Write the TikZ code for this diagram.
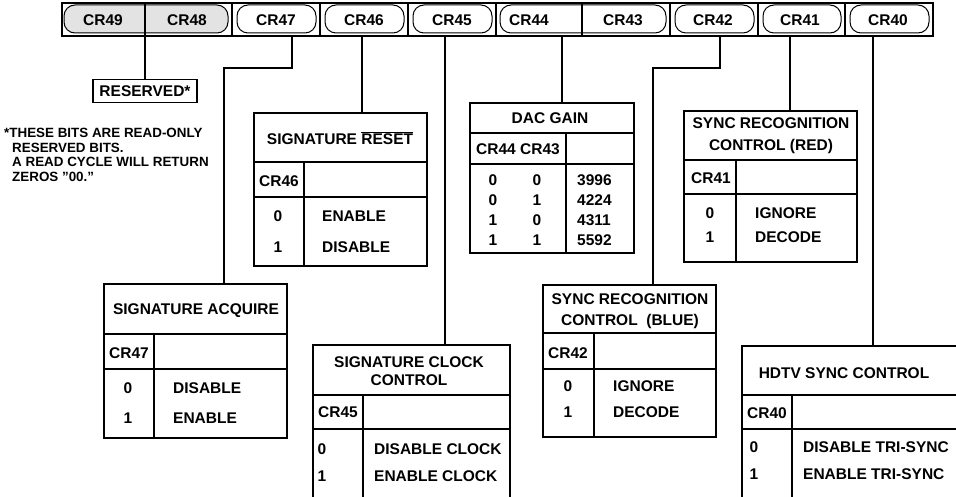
\documentclass[tikz,border=0pt]{standalone}
\usepackage{fontspec}
\setmainfont{Liberation Sans}
\begin{document}
\begin{tikzpicture}[x=1pt,y=-1pt,
  lbl/.style={font=\bfseries\fontsize{15.5}{20}\selectfont, inner sep=0pt, align=center},
  lbll/.style={lbl, anchor=west},
  note/.style={font=\bfseries\fontsize{13.4}{15.5}\selectfont, inner sep=0pt, anchor=west},
  tblbox/.style={draw, line width=1.6pt, anchor=north west, inner sep=0pt, outer sep=0pt},
  innerline/.style={line width=1.1pt},
  wire/.style={line width=1.4pt},
  pillbox/.style={draw, line width=1pt, rounded corners=11pt},
]
\useasboundingbox (0,0) rectangle (956,497);
\clip (0,0) rectangle (956,497);

% ---------- register bar ----------
\draw[pillbox, fill=gray!22] (64,5) rectangle (228,33);
\draw[pillbox] (237,5) rectangle (316,33);
\draw[pillbox] (325,5) rectangle (404,33);
\draw[pillbox] (413,5) rectangle (492,33);
\draw[pillbox] (500,5) rectangle (666,33);
\draw[pillbox] (675,5) rectangle (754,33);
\draw[pillbox] (763,5) rectangle (841,33);
\draw[pillbox] (850,5) rectangle (929,33);
\foreach \x in {145,232,320,408,496,582,670,758,845}
  \draw[innerline] (\x,3) -- (\x,36);
\node[tblbox, minimum width=871pt, minimum height=33pt] (bar) at (62,3) {};

\node[lbl] (b49) at (103,20) {CR49};
\node[lbl] (b48) at (187,20) {CR48};
\node[lbl] (b47) at (276,20) {CR47};
\node[lbl] (b46) at (364,20) {CR46};
\node[lbl] (b45) at (452,20) {CR45};
\node[lbl] (b44) at (529,20) {CR44};
\node[lbl] (b43) at (623,20) {CR43};
\node[lbl] (b42) at (713,20) {CR42};
\node[lbl] (b41) at (800,20) {CR41};
\node[lbl] (b40) at (888,20) {CR40};

% connector start points on the bar
\coordinate (p49) at (145,36);
\coordinate (p47) at (292,36);
\coordinate (k47) at (224,68);
\coordinate (p46) at (362,36);
\coordinate (p45) at (445,36);
\coordinate (p44) at (562,36);
\coordinate (p42) at (720,36);
\coordinate (k42) at (653,68);
\coordinate (p41) at (790,36);
\coordinate (p40) at (873,36);

% ---------- reserved ----------
\node[draw, line width=1.2pt, lbl, minimum width=104pt, minimum height=23pt] (res) at (145,91) {RESERVED*};
\draw[wire] (p49) -- (res.north);

\node[note] (n1) at (4,133) {*THESE BITS ARE READ-ONLY};
\node[note] (n2) at (12,147.5) {RESERVED BITS.};
\node[note] (n3) at (12,162) {A READ CYCLE WILL RETURN};
\node[note] (n4) at (12,176.5) {ZEROS "00."};

% ---------- CR47 : signature acquire ----------
\node[tblbox, minimum width=183pt, minimum height=154pt] (t47) at (104,284) {};
\draw[innerline] (104,334) -- (287,334) (104,369) -- (287,369) (154,334) -- (154,438);
\node[lbl] (t47a) at (196,311) {SIGNATURE ACQUIRE};
\node[lbl] (t47b) at (129,353) {CR47};
\node[lbl] (t47c) at (128,388) {0};
\node[lbll] (t47d) at (173,388) {DISABLE};
\node[lbl] (t47e) at (128,418) {1};
\node[lbll] (t47f) at (173,418) {ENABLE};
\draw[wire] (p47) |- (k47) -- (k47 |- t47.north);

% ---------- CR46 : signature reset ----------
\node[tblbox, minimum width=173pt, minimum height=153pt] (t46) at (254,113) {};
\draw[innerline] (254,162) -- (427,162) (254,197) -- (427,197) (304,162) -- (304,266);
\node[lbl] (t46a) at (340,138) {SIGNATURE $\overline{\hbox{RESET}}$};
\node[lbl] (t46b) at (279,181) {CR46};
\node[lbl] (t46c) at (278,216) {0};
\node[lbll] (t46d) at (322,216) {ENABLE};
\node[lbl] (t46e) at (278,247) {1};
\node[lbll] (t46f) at (322,247) {DISABLE};
\draw[wire] (p46) -- (p46 |- t46.north);

% ---------- CR45 : signature clock control ----------
\node[tblbox, minimum width=197pt, minimum height=170pt] (t45) at (313,345) {};
\draw[innerline] (313,395) -- (510,395) (313,429) -- (510,429) (363,395) -- (363,515);
\node[lbl, font=\bfseries\fontsize{15.5}{18}\selectfont] (t45a) at (409,371) {SIGNATURE CLOCK\\CONTROL};
\node[lbl] (t45b) at (338,412) {CR45};
\node[lbl] (t45c) at (322,449) {0};
\node[lbll] (t45d) at (374,449) {DISABLE CLOCK};
\node[lbl] (t45e) at (322,476) {1};
\node[lbll] (t45f) at (374,476) {ENABLE CLOCK};
\draw[wire] (p45) -- (p45 |- t45.north);

% ---------- CR44/CR43 : DAC gain ----------
\node[tblbox, minimum width=164pt, minimum height=150pt] (t44) at (470,103) {};
\draw[innerline] (470,133) -- (634,133) (470,164) -- (634,164) (566,133) -- (566,253);
\node[lbl] (t44a) at (550,118) {DAC GAIN};
\node[lbl] (t44b) at (518,149) {CR44 CR43};
\node[lbl] (t44c) at (493,180) {0};
\node[lbl] (t44d) at (537,180) {0};
\node[lbll] (t44e) at (577,180) {3996};
\node[lbl] (t44f) at (493,200) {0};
\node[lbl] (t44g) at (537,200) {1};
\node[lbll] (t44h) at (577,200) {4224};
\node[lbl] (t44i) at (493,220) {1};
\node[lbl] (t44j) at (537,220) {0};
\node[lbll] (t44k) at (577,220) {4311};
\node[lbl] (t44l) at (493,240) {1};
\node[lbl] (t44m) at (537,240) {1};
\node[lbll] (t44n) at (577,240) {5592};
\draw[wire] (p44) -- (p44 |- t44.north);

% ---------- CR42 : sync recognition blue ----------
\node[tblbox, minimum width=173pt, minimum height=152pt] (t42) at (543,285) {};
\draw[innerline] (543,333) -- (716,333) (543,369) -- (716,369) (594,333) -- (594,437);
\node[lbl, font=\bfseries\fontsize{15.5}{21}\selectfont] (t42a) at (630,311) {SYNC RECOGNITION\\CONTROL\ \ (BLUE)};
\node[lbl] (t42b) at (568,353) {CR42};
\node[lbl] (t42c) at (568,386) {0};
\node[lbll] (t42d) at (613,386) {IGNORE};
\node[lbl] (t42e) at (568,412) {1};
\node[lbll] (t42f) at (613,412) {DECODE};
\draw[wire] (p42) |- (k42) -- (k42 |- t42.north);

% ---------- CR41 : sync recognition red ----------
\node[tblbox, minimum width=173pt, minimum height=151pt] (t41) at (684,111) {};
\draw[innerline] (684,160) -- (857,160) (684,194) -- (857,194) (736,160) -- (736,262);
\node[lbl, font=\bfseries\fontsize{15.5}{22}\selectfont] (t41a) at (771,136) {SYNC RECOGNITION\\CONTROL (RED)};
\node[lbl] (t41b) at (711,178) {CR41};
\node[lbl] (t41c) at (710,213) {0};
\node[lbll] (t41d) at (755,213) {IGNORE};
\node[lbl] (t41e) at (710,237) {1};
\node[lbll] (t41f) at (755,237) {DECODE};
\draw[wire] (p41) -- (p41 |- t41.north);

% ---------- CR40 : HDTV sync control ----------
\node[tblbox, minimum width=230pt, minimum height=170pt] (t40) at (742,346) {};
\draw[innerline] (742,395) -- (972,395) (742,429) -- (972,429) (792,395) -- (792,515);
\node[lbl] (t40a) at (844,373) {HDTV SYNC CONTROL};
\node[lbl] (t40b) at (767,413) {CR40};
\node[lbl] (t40c) at (754,447) {0};
\node[lbll] (t40d) at (803,447) {DISABLE TRI-SYNC};
\node[lbl] (t40e) at (754,474) {1};
\node[lbll] (t40f) at (803,474) {ENABLE TRI-SYNC};
\draw[wire] (p40) -- (p40 |- t40.north);
\end{tikzpicture}
\end{document}
